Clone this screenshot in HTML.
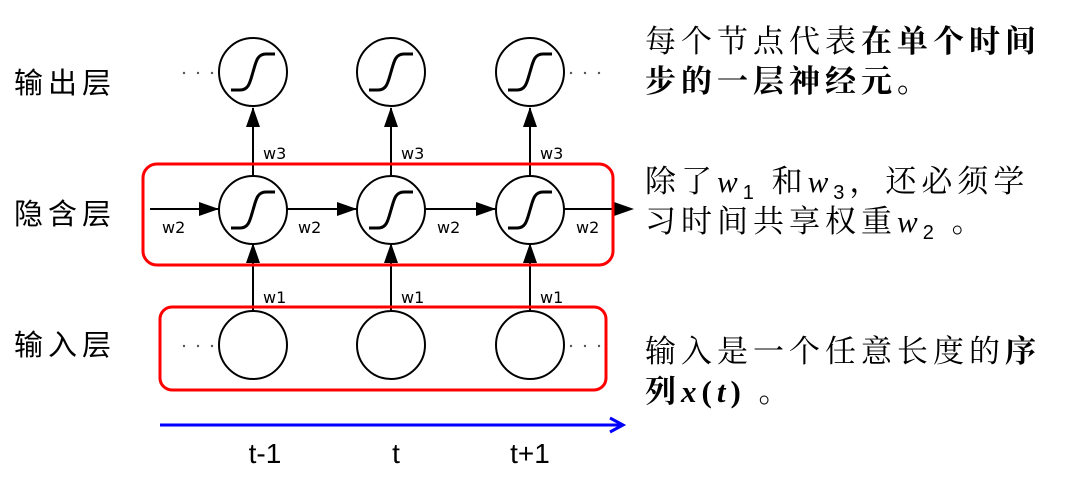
<!DOCTYPE html>
<html><head><meta charset="utf-8"><style>
body{margin:0;background:#fff;width:1070px;height:477px;overflow:hidden;position:relative;font-family:"Liberation Sans","Noto Sans CJK SC",sans-serif}
.t{position:absolute;font-family:"Liberation Serif","Noto Serif CJK SC",serif;font-size:31px;color:#000;white-space:nowrap;letter-spacing:5px}
.l{position:absolute;font-size:29px;letter-spacing:5px;font-family:"Noto Sans CJK SC",sans-serif}
b{font-weight:bold}
i{font-family:"Liberation Serif",serif;font-style:italic}
sub{font-size:20px;font-style:normal;font-family:"Liberation Sans",sans-serif}
</style></head><body>
<svg width="1070" height="477" style="position:absolute;left:0;top:0">
<defs>
<g id="s"><circle r="34" fill="#fff" stroke="#000" stroke-width="2"/><path d="M-22,18 L-13,18 C-4,18 -3,10 0,0 C3,-10 4,-18 13,-18 L22,-18" fill="none" stroke="#000" stroke-width="3"/></g>
</defs>
<g stroke="#000" stroke-width="2" fill="none">
<line x1="253" y1="175" x2="253" y2="108"/><line x1="391" y1="175" x2="391" y2="108"/><line x1="530" y1="175" x2="530" y2="108"/>
<line x1="253" y1="311" x2="253" y2="244"/><line x1="391" y1="311" x2="391" y2="244"/><line x1="530" y1="311" x2="530" y2="244"/>
<line x1="150" y1="209" x2="219" y2="209"/><line x1="287" y1="209" x2="357" y2="209"/><line x1="425" y1="209" x2="496" y2="209"/><line x1="564" y1="209" x2="630" y2="209"/>
</g>
<g fill="#000">
<path d="M246,127 L260,127 L253,107z"/><path d="M384,127 L398,127 L391,107z"/><path d="M523,127 L537,127 L530,107z"/>
<path d="M246,263 L260,263 L253,243z"/><path d="M384,263 L398,263 L391,243z"/><path d="M523,263 L537,263 L530,243z"/>
<path d="M199,202 L199,216 L219,209z"/><path d="M337,202 L337,216 L357,209z"/><path d="M476,202 L476,216 L496,209z"/><path d="M614,202 L614,216 L634,209z"/>
</g>
<use href="#s" x="253" y="72"/><use href="#s" x="391" y="72"/><use href="#s" x="530" y="72"/>
<use href="#s" x="253" y="210"/><use href="#s" x="391" y="210"/><use href="#s" x="530" y="210"/>
<g fill="#fff" stroke="#000" stroke-width="2"><circle cx="253" cy="345" r="34"/><circle cx="391" cy="345" r="34"/><circle cx="530" cy="345" r="34"/></g>
<g fill="#555"><circle cx="184" cy="73" r="1.2"/><circle cx="198" cy="73" r="1.2"/><circle cx="212" cy="73" r="1.2"/>
<circle cx="571" cy="73" r="1.2"/><circle cx="585" cy="73" r="1.2"/><circle cx="599" cy="73" r="1.2"/>
<circle cx="184" cy="346" r="1.2"/><circle cx="198" cy="346" r="1.2"/><circle cx="212" cy="346" r="1.2"/>
<circle cx="571" cy="346" r="1.2"/><circle cx="585" cy="346" r="1.2"/><circle cx="599" cy="346" r="1.2"/></g>
<g font-family="DejaVu Sans,sans-serif" font-size="16" fill="#000">
<text x="263" y="159">w3</text><text x="401" y="159">w3</text><text x="540" y="159">w3</text>
<text x="263" y="303">w1</text><text x="401" y="303">w1</text><text x="540" y="303">w1</text>
<text x="162" y="233">w2</text><text x="298" y="233">w2</text><text x="437" y="233">w2</text><text x="576" y="233">w2</text>
</g>
<rect x="143" y="164" width="470" height="101" rx="14" fill="none" stroke="#f00" stroke-width="3"/>
<rect x="160" y="307" width="446" height="83" rx="12" fill="none" stroke="#f00" stroke-width="3"/>
<line x1="160" y1="425" x2="620" y2="425" stroke="#00f" stroke-width="3"/>
<path d="M610,418 L623,425 L610,432" fill="none" stroke="#00f" stroke-width="3"/>
<g font-size="28" fill="#000" text-anchor="middle" font-family="Liberation Sans,sans-serif"><text x="265" y="463">t-1</text><text x="396" y="463">t</text><text x="530" y="463">t+1</text></g>
</svg>
<div class="l" style="left:14px;top:60px">输出层</div>
<div class="l" style="left:14px;top:191px">隐含层</div>
<div class="l" style="left:14px;top:322px">输入层</div>
<div class="t" style="left:645px;top:16px">每个节点代表<b>在单个时间</b></div>
<div class="t" style="left:645px;top:56px"><b>步的一层神经元。</b></div>
<div class="t" style="left:645px;top:156px">除了<i>w</i><sub>1</sub> 和<i>w</i><sub>3</sub>，还必须学</div>
<div class="t" style="left:645px;top:196px">习时间共享权重<i>w</i><sub>2</sub> 。</div>
<div class="t" style="left:645px;top:326px">输入是一个任意长度的<b>序</b></div>
<div class="t" style="left:645px;top:366px"><b>列<i>x</i>(<i>t</i>)</b> 。</div>
</body></html>
